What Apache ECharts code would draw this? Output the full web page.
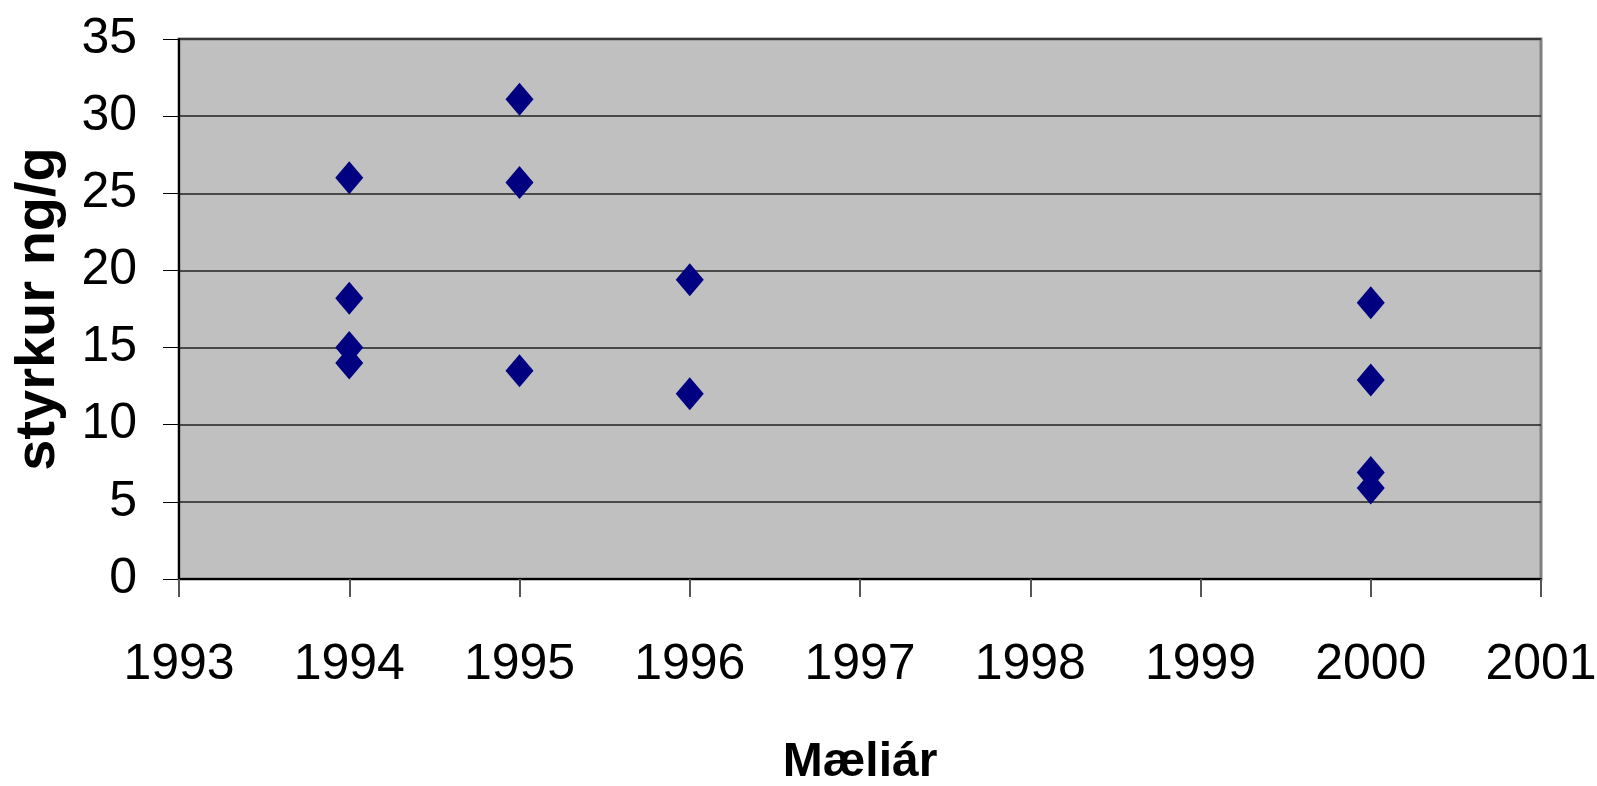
<!DOCTYPE html>
<html lang="is">
<head>
  <meta charset="UTF-8">
  <title>styrkur ng/g</title>
  <script src="https://cdn.jsdelivr.net/npm/echarts@6/dist/echarts.min.js"></script>
  <style>
    html, body { margin: 0; padding: 0; background: #fff; }
    #chart { width: 1597px; height: 786px; }
  </style>
</head>
<body>
<div id="chart"></div>
<script>
  // mæligögn
  var years = [1994, 1994, 1994, 1994, 1995, 1995, 1995, 1996, 1996, 2000, 2000, 2000, 2000];
  var values = [26.0, 18.2, 15.0, 14.0, 31.1, 25.7, 13.5, 19.4, 12.0, 17.9, 12.9, 6.9, 5.9];
  var xTicks = [1993, 1994, 1995, 1996, 1997, 1998, 1999, 2000, 2001];
  var yTicks = [0, 5, 10, 15, 20, 25, 30, 35];

  var points = years.map(function (y, i) { return [y, values[i]]; });

  var chart = echarts.init(document.getElementById('chart'));
  var font = 'Liberation Sans, Arial, sans-serif';

  var option = {
    animation: false,
    grid: {
      left: 179, top: 39, right: 56, bottom: 207,
      outerBoundsMode: 'none',
      containLabel: false,
      show: true,
      backgroundColor: '#c0c0c0',
      borderColor: '#808080',
      borderWidth: 3
    },
    xAxis: {
      type: 'value',
      min: xTicks[0],
      max: xTicks[xTicks.length - 1],
      interval: 1,
      name: 'Mæliár',
      nameLocation: 'middle',
      nameGap: 160,
      nameTextStyle: { fontFamily: font, fontWeight: 'bold', fontSize: 48, color: '#000' },
      axisLine: { show: true, lineStyle: { color: '#000', width: 2 } },
      axisTick: { show: true, length: 18, lineStyle: { color: '#555', width: 2 } },
      axisLabel: {
        fontFamily: font, fontSize: 50, color: '#000', margin: 61,
        formatter: function (v) { return String(v); }
      },
      splitLine: { show: false }
    },
    yAxis: {
      type: 'value',
      min: yTicks[0],
      max: yTicks[yTicks.length - 1],
      interval: 5,
      name: 'styrkur ng/g',
      nameLocation: 'middle',
      nameGap: 112,
      nameTextStyle: { fontFamily: font, fontWeight: 'bold', fontSize: 56, color: '#000' },
      axisLine: { show: true, lineStyle: { color: '#000', width: 2 } },
      axisTick: { show: true, length: 16, lineStyle: { color: '#000', width: 1 } },
      axisLabel: { fontFamily: font, fontSize: 50, color: '#000', margin: 42 },
      splitLine: { show: true, lineStyle: { color: '#222', width: 1.5 } }
    },
    series: [{
      type: 'scatter',
      symbol: 'diamond',
      symbolSize: [28, 33],
      itemStyle: { color: '#000080', opacity: 1 },
      data: points
    }]
  };
  chart.setOption(option);
</script>
</body>
</html>
